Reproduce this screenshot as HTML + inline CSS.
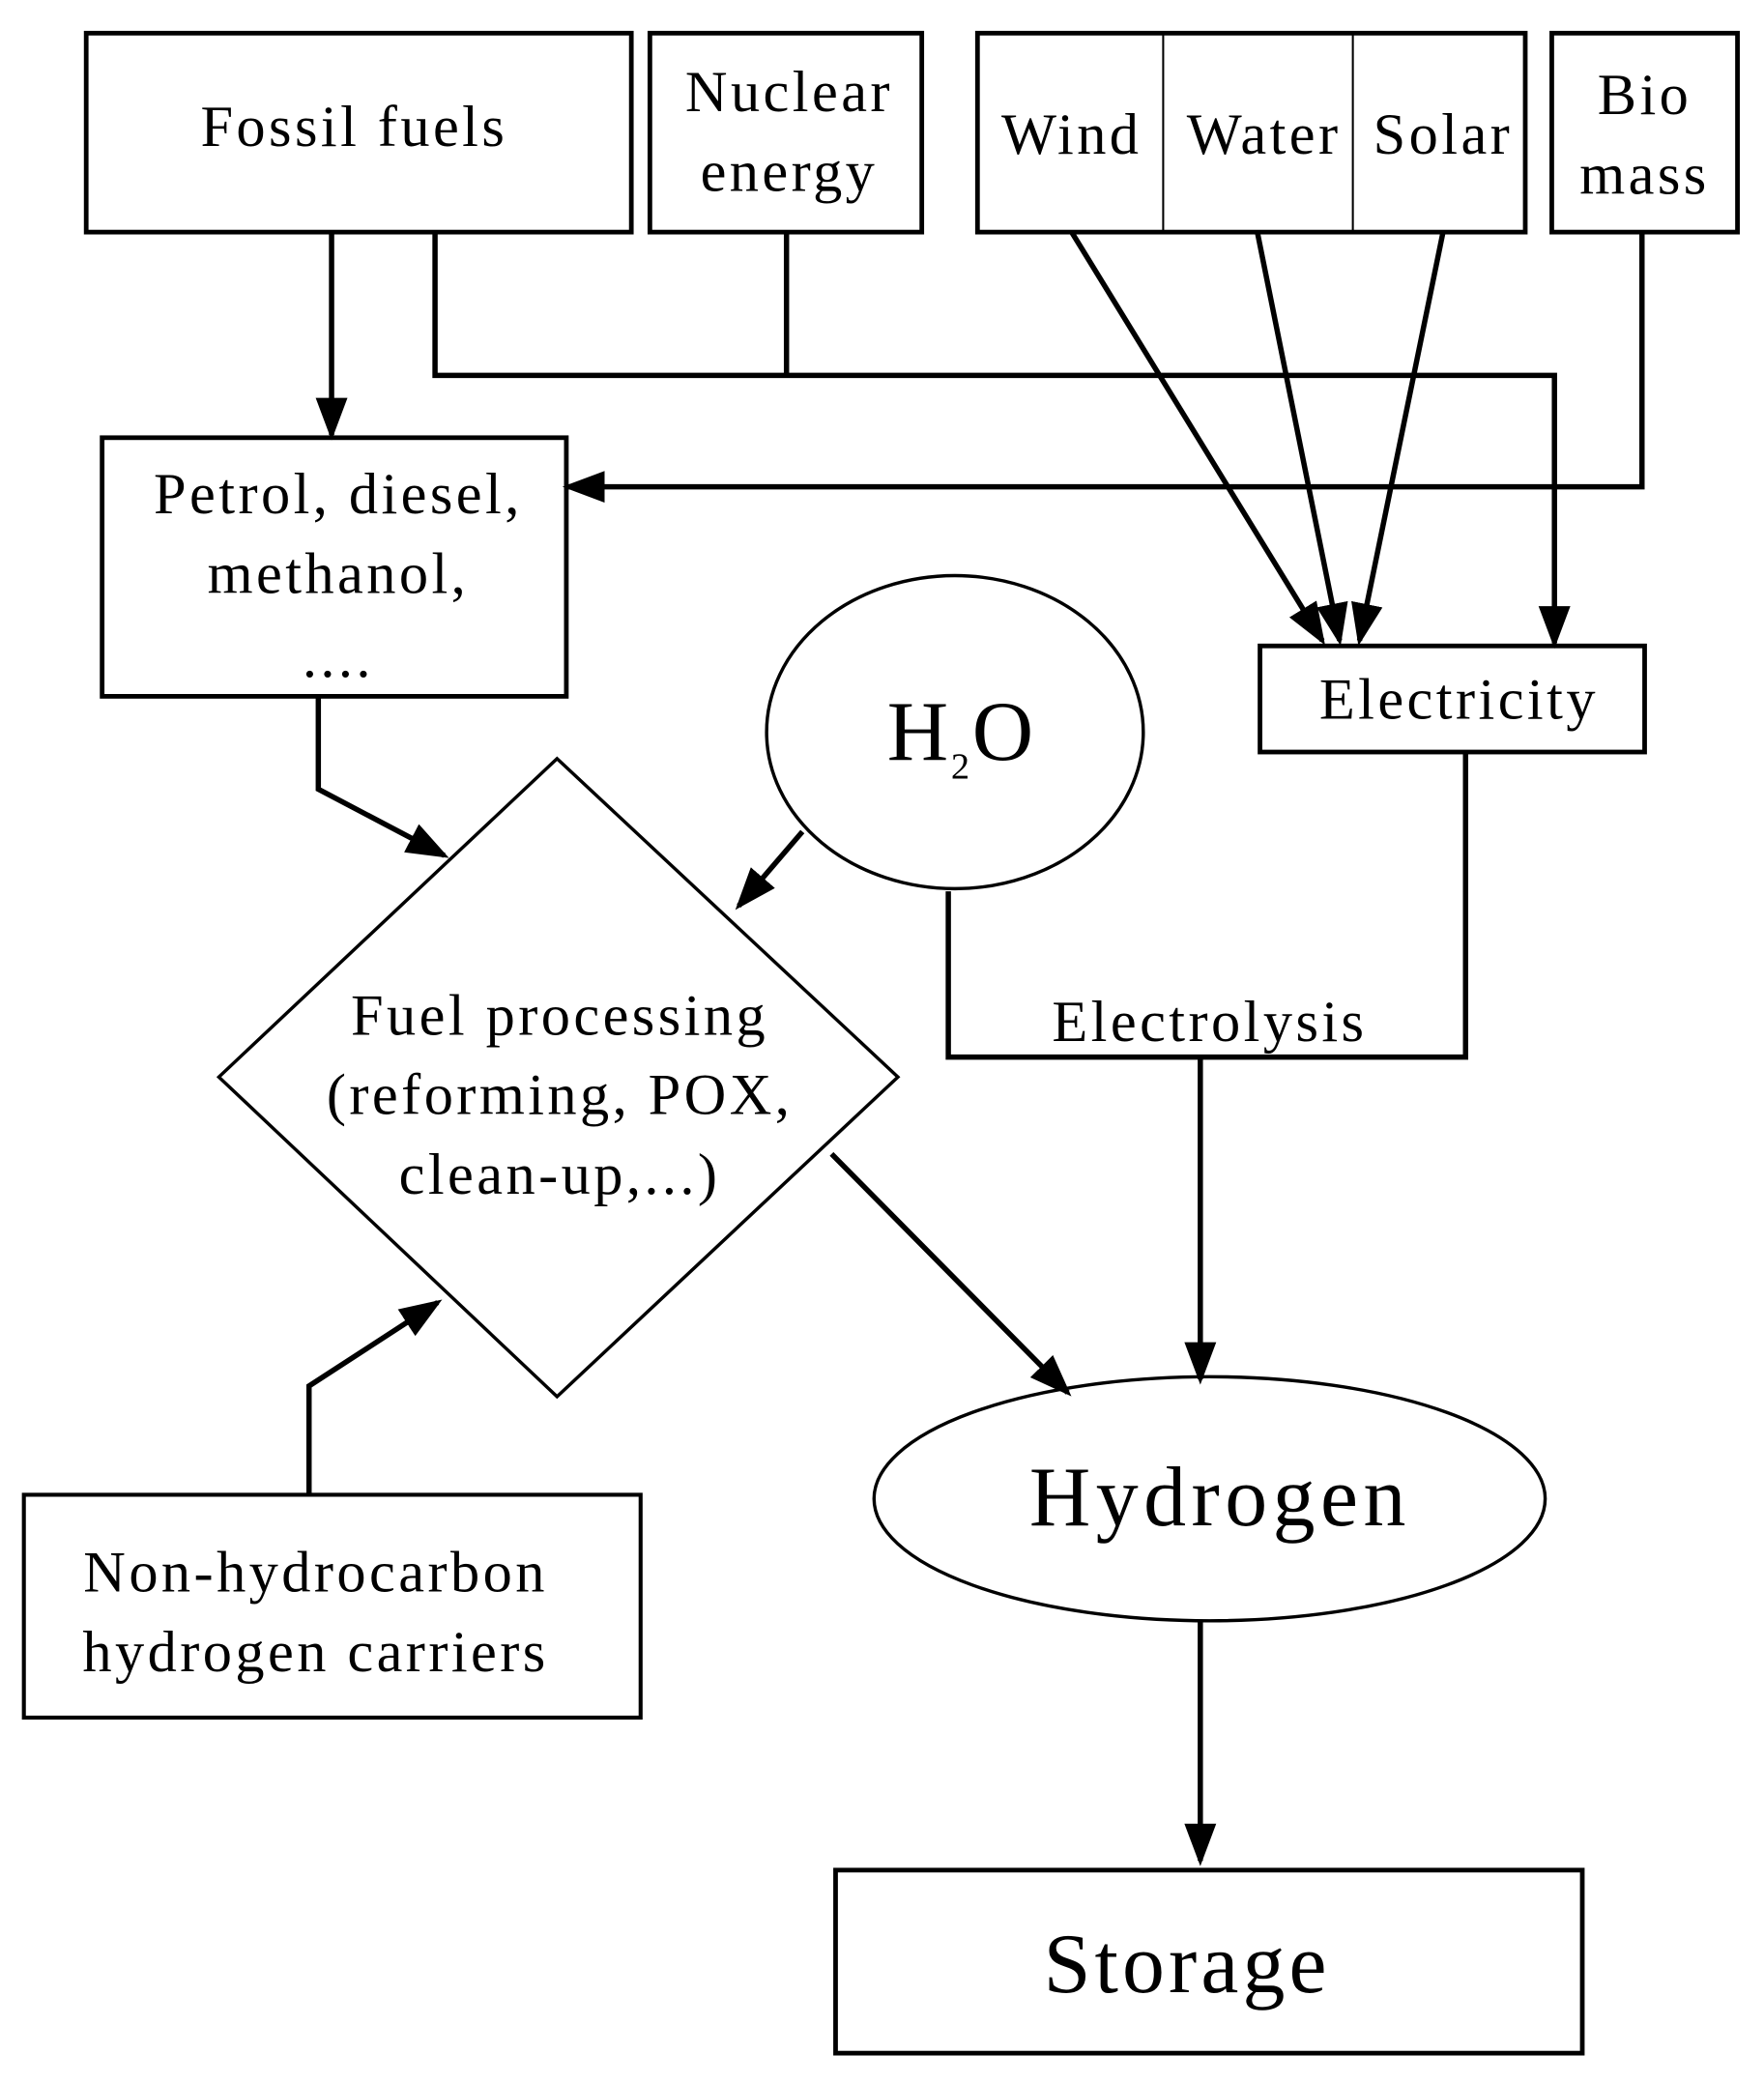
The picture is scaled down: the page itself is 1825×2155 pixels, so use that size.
<!DOCTYPE html>
<html><head><meta charset="utf-8"><style>
html,body{margin:0;padding:0;background:#fff;}
svg{display:block;}
text{font-family:"Liberation Serif",serif;fill:#000;}
</style></head><body>
<svg width="1825" height="2155" viewBox="0 0 1330 1570.5" preserveAspectRatio="none" xmlns="http://www.w3.org/2000/svg">
<defs>
<marker id="a" markerWidth="8" markerHeight="8" refX="7" refY="4" orient="auto" markerUnits="strokeWidth">
<path d="M0,1 L8,4 L0,7 Z" fill="#000"/>
</marker>
</defs>
<g fill="none" stroke="#000" stroke-width="3.5">
<rect x="65" y="25" width="411" height="150"/>
<rect x="490" y="25" width="205" height="150"/>
<rect x="737" y="25" width="413" height="150"/>
<line x1="877" y1="25" x2="877" y2="175" stroke-width="1.5"/>
<line x1="1020" y1="25" x2="1020" y2="175" stroke-width="1.5"/>
<rect x="1170" y="25" width="140" height="150"/>
<rect x="77" y="330" width="350" height="195"/>
<rect x="950" y="487" width="290" height="80"/>
<ellipse cx="720" cy="552" rx="142" ry="118" stroke-width="2.5"/>
<polygon points="420,572 677,812 420,1053 165,812" stroke-width="2.5"/>
<ellipse cx="912" cy="1130" rx="253" ry="92" stroke-width="2.5"/>
<rect x="18" y="1127" width="465" height="168" stroke-width="3"/>
<rect x="630" y="1410" width="563" height="138"/>
</g>
<g fill="none" stroke="#000" stroke-width="4">
<polyline points="250,175 250,328" marker-end="url(#a)"/>
<polyline points="328,175 328,283 1172,283 1172,485" marker-end="url(#a)"/>
<polyline points="593,175 593,283"/>
<polyline points="1238,175 1238,367 428,367" marker-end="url(#a)"/>
<polyline points="808,175 997,483" marker-end="url(#a)"/>
<polyline points="948,175 1010,483" marker-end="url(#a)"/>
<polyline points="1088,175 1025,483" marker-end="url(#a)"/>
<polyline points="240,525 240,595 335,645" marker-end="url(#a)"/>
<polyline points="605,627 557,683" marker-end="url(#a)"/>
<polyline points="715,672 715,797 1105,797 1105,567"/>
<polyline points="905,797 905,1040" marker-end="url(#a)"/>
<polyline points="627,870 805,1050" marker-end="url(#a)"/>
<polyline points="233,1127 233,1045 330,982" marker-end="url(#a)"/>
<polyline points="905,1222 905,1403" marker-end="url(#a)"/>
</g>
<g text-anchor="middle" font-size="44" letter-spacing="2.5">
<text x="267" y="110">Fossil fuels</text>
<text x="595" y="84">Nuclear</text>
<text x="595" y="144">energy</text>
<text x="808" y="116">Wind</text>
<text x="953" y="116">Water</text>
<text x="1088" y="116">Solar</text>
<text x="1240" y="86">Bio</text>
<text x="1240" y="146">mass</text>
<text x="255" y="387">Petrol,  diesel,</text>
<text x="255" y="447">methanol,</text>
<text x="255" y="510">....</text>
<text x="1100" y="542">Electricity</text>
<text x="912" y="785">Electrolysis</text>
<text x="422" y="780">Fuel processing</text>
<text x="422" y="840">(reforming, POX,</text>
<text x="422" y="900">clean-up,...)</text>
<text x="238" y="1200">Non-hydrocarbon</text>
<text x="238" y="1260">hydrogen carriers</text>
</g>
<text x="725" y="573" font-size="64" text-anchor="middle" letter-spacing="2">H<tspan font-size="28" dy="14">2</tspan><tspan dy="-14">O</tspan></text>
<text x="920" y="1150" font-size="64" text-anchor="middle" letter-spacing="4">Hydrogen</text>
<text x="895" y="1502" font-size="64" text-anchor="middle" letter-spacing="3">Storage</text>
</svg>
</body></html>
